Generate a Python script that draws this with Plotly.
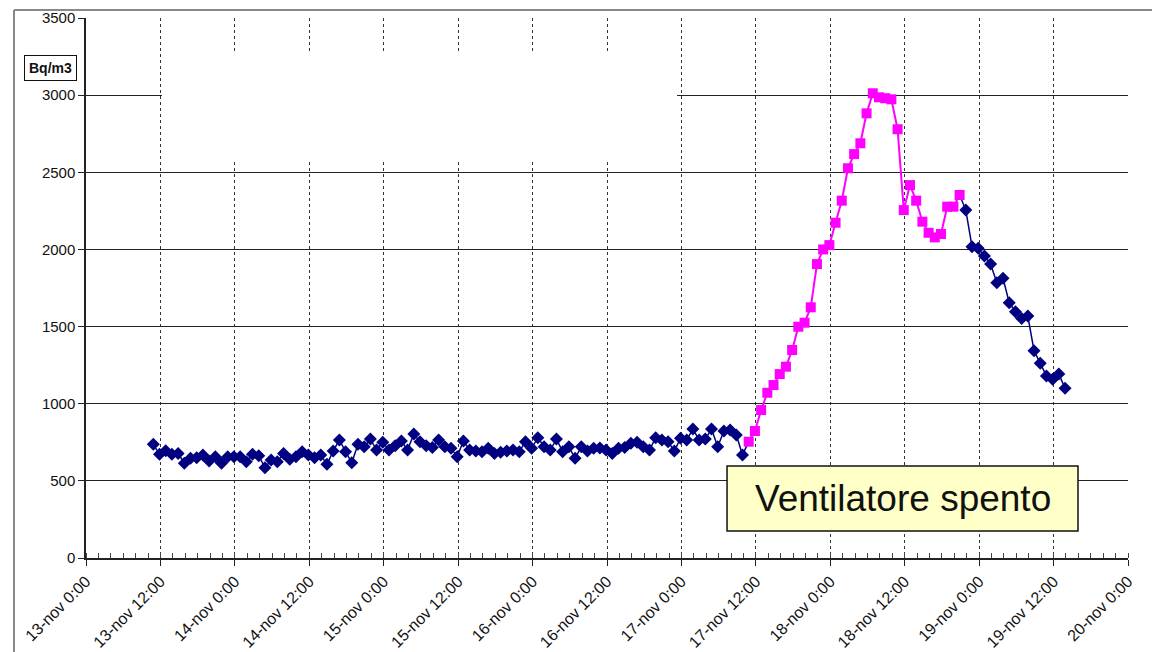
import plotly.graph_objects as go
import pandas as pd

# ---- data (hourly readings, Bq/m3) ----
start_time = "2009-11-13 10:51"
blue_before = [737, 672, 695, 672, 678, 614, 646, 650, 668, 629, 657, 614, 657, 657, 657, 624,
               672, 663, 585, 635, 624, 678, 640,
               657, 689, 668, 650, 668, 607, 693, 765, 689, 618, 737, 721, 771, 700, 750, 700,
               728, 758, 700, 804, 754, 728, 717, 765,
               721, 711, 657, 758, 700, 693, 689, 711, 678, 685, 693, 700, 689, 754, 711, 780,
               721, 700, 771, 689, 721, 646,
               721, 693, 711, 713, 700, 678, 711, 717, 743, 750, 721, 700, 780, 765, 754, 693,
               776, 765, 836, 765, 771, 836, 721, 823, 830, 797, 668]
magenta_off = [754, 823, 959, 1071, 1121, 1192, 1240, 1348, 1499, 1525, 1625, 1905, 2000, 2028,
               2173, 2316, 2526, 2618, 2688, 2882, 3012, 2986, 2980, 2973, 2779, 2255, 2417, 2316,
               2180, 2108, 2078, 2100, 2277, 2277, 2353]
blue_after = [2255, 2018, 2007, 1957, 1905, 1784, 1813, 1655, 1596, 1553, 1568, 1344, 1262,
              1180, 1158, 1192, 1100]

tick_vals = ["2009-11-13 00:00", "2009-11-13 12:00", "2009-11-14 00:00", "2009-11-14 12:00",
             "2009-11-15 00:00", "2009-11-15 12:00", "2009-11-16 00:00", "2009-11-16 12:00",
             "2009-11-17 00:00", "2009-11-17 12:00", "2009-11-18 00:00", "2009-11-18 12:00",
             "2009-11-19 00:00", "2009-11-19 12:00", "2009-11-20 00:00"]
tick_text = ["13-nov 0:00", "13-nov 12:00", "14-nov 0:00", "14-nov 12:00", "15-nov 0:00",
             "15-nov 12:00", "16-nov 0:00", "16-nov 12:00", "17-nov 0:00", "17-nov 12:00",
             "18-nov 0:00", "18-nov 12:00", "19-nov 0:00", "19-nov 12:00", "20-nov 0:00"]

n_total = len(blue_before) + len(magenta_off) + len(blue_after)
times = list(pd.date_range(start_time, periods=n_total, freq="h"))
nb = len(blue_before)
nm = len(magenta_off)

t_before = times[:nb]
t_mag = times[nb:nb + nm]
t_after = times[nb + nm:]

# blue connecting line (whole series with the off-period hidden under magenta)
line_x = t_before + [t_mag[0], None, t_mag[-1]] + t_after
line_y = blue_before + [magenta_off[0], None, magenta_off[-1]] + blue_after

NAVY = "#000080"
MAG = "#FF00FF"

fig = go.Figure()
fig.add_trace(go.Scatter(x=line_x, y=line_y, mode="lines",
                         line=dict(color=NAVY, width=1.5), connectgaps=False,
                         hoverinfo="skip", showlegend=False))
fig.add_trace(go.Scatter(x=t_before + t_after, y=blue_before + blue_after, mode="markers",
                         marker=dict(symbol="diamond", size=10, color=NAVY),
                         showlegend=False))
fig.add_trace(go.Scatter(x=t_mag, y=magenta_off, mode="lines+markers",
                         line=dict(color=MAG, width=2),
                         marker=dict(symbol="square", size=10, color=MAG),
                         showlegend=False))

FONT = "Arial, Liberation Sans, sans-serif"

fig.update_layout(
    width=1160, height=652,
    margin=dict(l=78, r=40, t=10, b=102, autoexpand=False),
    paper_bgcolor="white", plot_bgcolor="white",
    font=dict(family=FONT, size=15, color="#111"),
    xaxis=dict(
        type="date", automargin=False,
        range=["2009-11-13 00:00", "2009-11-20 00:00"],
        tickmode="array", tickvals=tick_vals, ticktext=tick_text,
        tickangle=-45, tickfont=dict(size=16, family=FONT, color="#111"),
        ticks="outside", ticklen=6, tickcolor="#222",
        showgrid=True, gridcolor="#333", gridwidth=1, griddash="dot",
        showline=True, linecolor="#222", linewidth=1.5,
        minor=dict(dtick=2 * 3600 * 1000, tick0="2009-11-13", ticks="inside",
                   ticklen=5, tickcolor="#444", showgrid=False),
        zeroline=False,
    ),
    yaxis=dict(
        automargin=False,
        range=[0, 3500], dtick=500, tick0=0,
        tickfont=dict(size=15, family=FONT, color="#111"),
        ticks="outside", ticklen=6, tickcolor="#222",
        showgrid=True, gridcolor="#222", gridwidth=1,
        showline=True, linecolor="#222", linewidth=1.5,
        zeroline=False,
    ),
    shapes=[
        # white patch over top-left area
        dict(type="rect", xref="paper", yref="paper", x0=0.0729, x1=0.5672, y0=0.7333, y1=0.937,
             fillcolor="white", line=dict(width=0), layer="above"),
        # outer frame (left & top)
        dict(type="line", xref="paper", yref="paper", x0=-0.0691, x1=-0.0691, y0=1.0148, y1=-0.2,
             line=dict(color="#888", width=2)),
        dict(type="line", xref="paper", yref="paper", x0=-0.0691, x1=1.04, y0=1.0148, y1=1.0148,
             line=dict(color="#888", width=2)),
        # callout box
        dict(type="rect", xref="paper", yref="paper", x0=0.6152, x1=0.952, y0=0.05, y1=0.1704,
             fillcolor="#FFFFC8", line=dict(color="#111", width=1.5), layer="above"),
    ],
    annotations=[
        dict(text="<b>Bq/m3</b>", xref="paper", yref="paper", x=-0.0336, y=0.9074,
             xanchor="center", yanchor="middle",
             showarrow=False, font=dict(size=14, family=FONT, color="#111"),
             bordercolor="#111", borderwidth=1, borderpad=4, bgcolor="white"),
        dict(text="Ventilatore spento", xref="paper", yref="paper", x=0.7836, y=0.111,
             xanchor="center", yanchor="middle",
             showarrow=False, font=dict(size=37, family=FONT, color="#111")),
    ],
)

fig.write_html("out.html")
